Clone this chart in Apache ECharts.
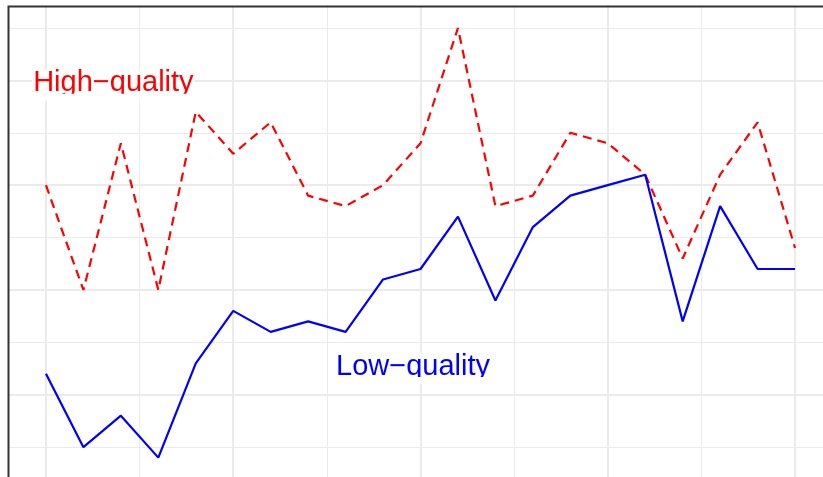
<!DOCTYPE html>
<html><head><meta charset="utf-8">
<script src="https://cdn.jsdelivr.net/npm/echarts@6/dist/echarts.min.js"></script>
<style>html,body{margin:0;padding:0;background:#fff;overflow:hidden;width:823px;height:477px}#c{width:900px;height:560px}</style>
</head><body><div id="c"></div>
<script>
const xValues = [0,1,2,3,4,5,6,7,8,9,10,11,12,13,14,15,16,17,18,19,20];
const highQuality = [3.0,2.0,3.4,2.0,3.7,3.3,3.6,2.9,2.8,3.0,3.4,4.5,2.8,2.9,3.5,3.4,3.1,2.3,3.1,3.6,2.4];
const lowQuality  = [1.2,0.5,0.8,0.4,1.3,1.8,1.6,1.7,1.6,2.1,2.2,2.7,1.9,2.6,2.9,3.0,3.1,1.7,2.8,2.2,2.2];
const yMajorTicks = [1,2,3,4];
const yMinorTicks = [0.5,1.5,2.5,3.5,4.5];
const xMajorTicks = [0,5,10,15,20];
const xMinorTicks = [2.5,7.5,12.5,17.5];
const annotations = [
  {label:'High\u2212quality', x:1.8, y:3.877, color:'#ff0000'},
  {label:'Low\u2212quality',  x:9.8, y:1.173, color:'#0000ff'}
];

const FONT_SIZE = 29;
const FONT = FONT_SIZE + 'px "Liberation Sans"';
const chart = echarts.init(document.getElementById('c'), null, {renderer:'canvas'});
const pair = (ys) => xValues.map((x,i)=>[x, ys[i]]);
const gridLines = [
  ...yMinorTicks.map(v=>({yAxis:v, lineStyle:{width:1}})),
  ...xMinorTicks.map(v=>({xAxis:v, lineStyle:{width:1}})),
  ...yMajorTicks.map(v=>({yAxis:v, lineStyle:{width:2}})),
  ...xMajorTicks.map(v=>({xAxis:v, lineStyle:{width:2}}))
];
chart.setOption({
  animation:false,
  backgroundColor:'#ffffff',
  grid:{left:8.5, top:6.5, width:824, height:472.6, show:true, borderColor:'#333333', borderWidth:2, z:3, containLabel:false},
  xAxis:{type:'value', min:-1, max:21, axisLine:{show:false}, axisTick:{show:false}, axisLabel:{show:false}, splitLine:{show:false}},
  yAxis:{type:'value', min:0.195, max:4.705, axisLine:{show:false},
    axisTick:{show:true, customValues:yMajorTicks, length:5, lineStyle:{color:'#333333', width:2}},
    axisLabel:{show:false}, splitLine:{show:false}},
  series:[
    {type:'line', name:'grid', data:[], z:0, silent:true,
     markLine:{silent:true, symbol:'none', z:1, animation:false, label:{show:false},
       lineStyle:{color:'#ebebeb', type:'solid', width:1}, data:gridLines}},
    {type:'line', name:'High-quality', data:pair(highQuality), showSymbol:false, z:4,
     lineStyle:{color:'#ff0000', width:2.2, type:[9,6]}, itemStyle:{color:'#ff0000'}},
    {type:'line', name:'Low-quality', data:pair(lowQuality), showSymbol:false, z:5,
     lineStyle:{color:'#0000ff', width:2.2}, itemStyle:{color:'#0000ff'}}
  ]
});
const ctx = document.createElement('canvas').getContext('2d');
ctx.font = FONT;
const els = [];
annotations.forEach(a=>{
  const p = chart.convertToPixel({gridIndex:0}, [a.x, a.y]);
  const w = ctx.measureText(a.label).width;
  const base = p[1];
  els.push({type:'rect', z:9, shape:{x:p[0]-w/2-1, y:base-23, width:w+2, height:23}, style:{fill:'#ffffff'}, silent:true});
  els.push({type:'text', z:10, x:p[0], y:base-0.3465*FONT_SIZE, silent:true,
     style:{text:a.label, font:FONT, fill:a.color, textAlign:'center', align:'center', textVerticalAlign:'middle', verticalAlign:'middle'}});
  els.push({type:'rect', z:11, shape:{x:p[0]-w/2-1, y:base+0.5, width:w+2, height:7}, style:{fill:'#ffffff'}, silent:true});
});
chart.setOption({graphic:{elements:els}});
</script></body></html>
